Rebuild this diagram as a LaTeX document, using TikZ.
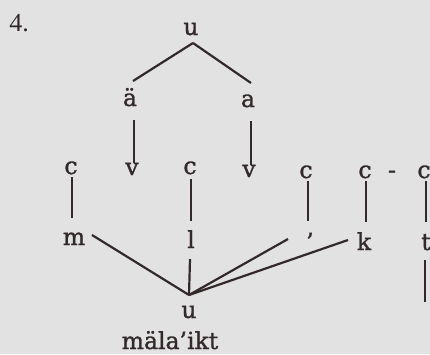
\documentclass[tikz,border=0pt]{standalone}
\usepackage{fontspec}
\setmainfont{DejaVu Serif}[FakeBold=1.2]
\newfontfamily\numfont{Liberation Serif}
\usetikzlibrary{calc}
\definecolor{paper}{RGB}{226,226,226}
\definecolor{ink}{RGB}{50,42,42}
\tikzset{
  lbl/.style={font=\fontsize{23.5}{26}\selectfont, inner sep=0pt, anchor=base, text=ink},
  stroke/.style={draw=ink, line width=2.2pt}
}
\begin{document}
\begin{tikzpicture}[x=1pt,y=-1pt]
\fill[paper] (0,0) rectangle (430,354);
\useasboundingbox (0,0) rectangle (430,354);
% labels
\node[lbl, font=\numfont\fontsize{26}{28}\selectfont] (n4) at (19,31) {4.};
\node[lbl] (ut) at (191,35) {u};
\node[lbl] (ae) at (130,106) {ä};
\node[lbl] (aa) at (248,107) {a};
\node[lbl] (v1) at (132,175) {v};
\node[lbl] (v2) at (249,177) {v};
\node[lbl] (c1) at (71,174) {c};
\node[lbl] (c2) at (190,174) {c};
\node[lbl] (c3) at (306,178) {c};
\node[lbl] (c4) at (365,178) {c};
\node[lbl] (dash) at (392,178) {-};
\node[lbl] (c5) at (424,178) {c};
\node[lbl] (m) at (74,245) {m};
\node[lbl] (l) at (191,248) {l};
\node[lbl] (ap) at (310,250) {’};
\node[lbl] (k) at (364,250) {k};
\node[lbl] (t) at (426,250) {t};
\node[lbl] (ub) at (189,318) {u};
\node[lbl] (word) at (170,349) {mäla’ikt};
\coordinate (vx) at ($(ub.base)+(0,-23)$);
\coordinate (tend) at ($(t.base)+(-1,52)$);
% connectors
\draw[stroke] ($(ut.base)+(2,8)$) -- ($(ae.base)+(3,-25)$);
\draw[stroke] ($(ut.base)+(2,8)$) -- ($(aa.base)+(3,-24)$);
\draw[stroke] ($(ae.base)+(4,14)$) -- ($(v1.base)+(2,-12)$);
\draw[stroke] ($(aa.base)+(3,14)$) -- ($(v2.base)+(2,-12)$);
\draw[stroke] ($(c1.base)+(1,3)$) -- ($(m.base)+(-2,-27)$);
\draw[stroke] ($(c2.base)+(1,5)$) -- ($(l.base)+(0,-27)$);
\draw[stroke] ($(l.base)+(-1,11)$) -- (vx);
\draw[stroke] ($(m.base)+(18,-10)$) -- (vx);
\draw[stroke] (vx) -- ($(ap.base)+(-22,-11)$);
\draw[stroke] (vx) -- ($(k.base)+(-16,-10)$);
\draw[stroke] ($(c3.base)+(2,3)$) -- ($(ap.base)+(-2,-29)$);
\draw[stroke] ($(c4.base)+(1,3)$) -- ($(k.base)+(2,-28)$);
\draw[stroke] ($(c5.base)+(2,3)$) -- ($(t.base)+(0,-28)$);
\draw[stroke] ($(t.base)+(-1,10)$) -- (tend);
\end{tikzpicture}
\end{document}
